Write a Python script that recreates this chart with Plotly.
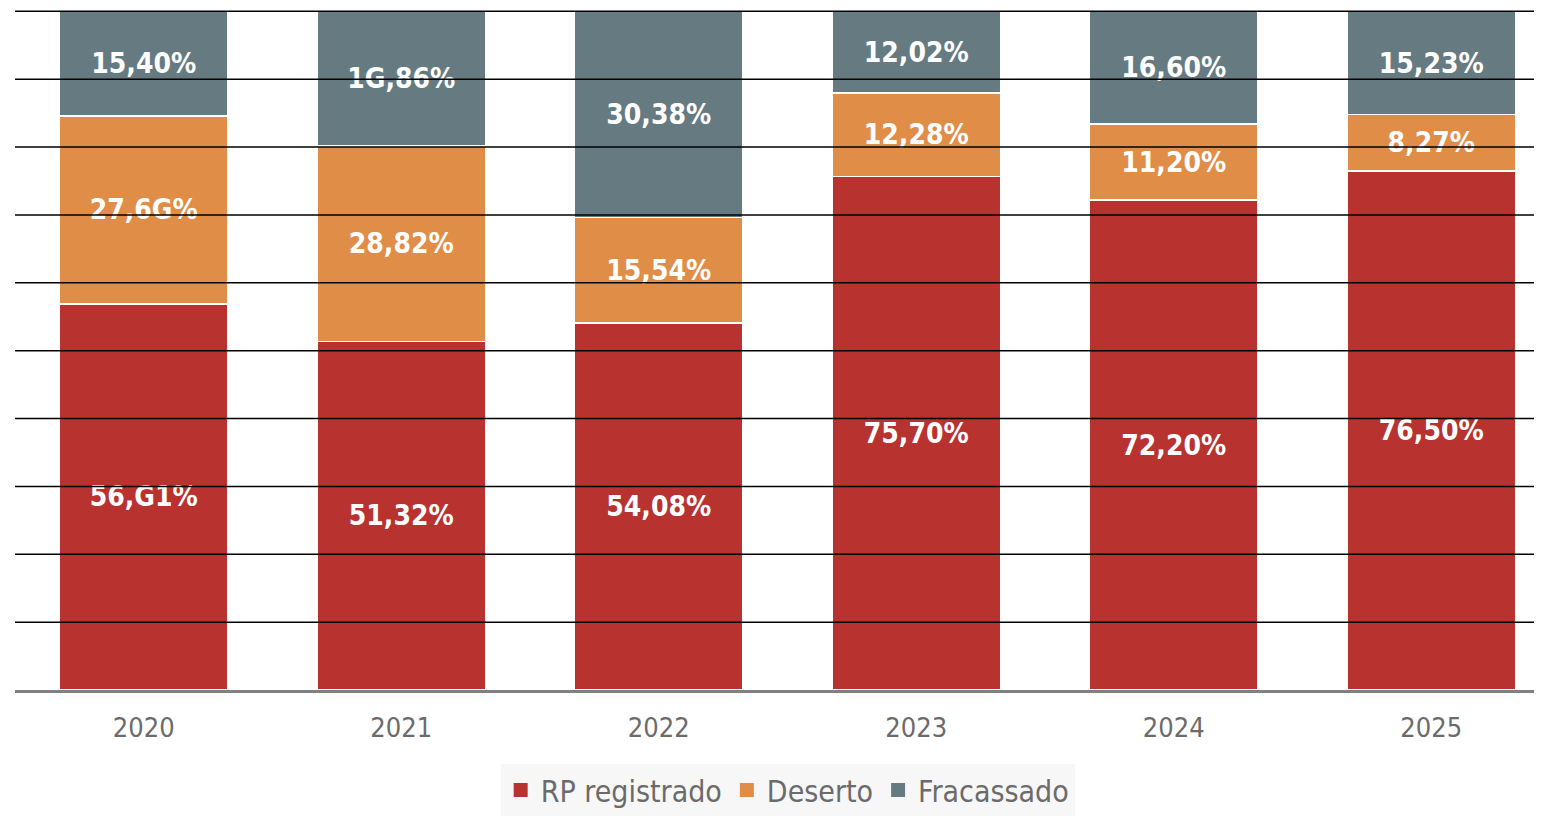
import plotly.graph_objects as go

years = ["2020", "2021", "2022", "2023", "2024", "2025"]
rp_registrado = [56.91, 51.32, 54.08, 75.70, 72.20, 76.50]
deserto = [27.69, 28.82, 15.54, 12.28, 11.20, 8.27]
fracassado = [15.40, 19.86, 30.38, 12.02, 16.60, 15.23]
rp_labels = ["56,G1%", "51,32%", "54,08%", "75,70%", "72,20%", "76,50%"]
deserto_labels = ["27,6G%", "28,82%", "15,54%", "12,28%", "11,20%", "8,27%"]
fracassado_labels = ["15,40%", "1G,86%", "30,38%", "12,02%", "16,60%", "15,23%"]
grid_values = [10, 20, 30, 40, 50, 60, 70, 80, 90, 100]

LABEL_FONT = dict(family="DejaVu Sans Condensed", size=28, color="white", weight="bold")
AXIS_FONT = dict(family="DejaVu Sans Condensed", size=27, color="#6b6b6b")
LEGEND_FONT = dict(family="DejaVu Sans Condensed", size=30, color="#6b6b6b")

series = [
    ("RP registrado", rp_registrado, rp_labels, "#B83230"),
    ("Deserto", deserto, deserto_labels, "#E08D48"),
    ("Fracassado", fracassado, fracassado_labels, "#667B81"),
]

fig = go.Figure()
for name, vals, labels, color in series:
    fig.add_trace(go.Bar(
        name=name, x=years, y=vals, text=labels,
        textposition="inside", insidetextanchor="middle",
        textfont=LABEL_FONT, constraintext="none",
        marker=dict(color=color, line=dict(color="white", width=1.5)),
        width=0.656, hoverinfo="skip", showlegend=False,
    ))
# legend entries with larger square swatches
for name, vals, labels, color in series:
    fig.add_trace(go.Scatter(
        name=name, x=[None], y=[None], mode="markers",
        marker=dict(symbol="square", size=14, color=color),
        hoverinfo="skip", showlegend=True,
    ))

# gridlines drawn above the bars, as in the reference
for g in grid_values:
    fig.add_shape(type="line", xref="paper", yref="y", x0=0, x1=1, y0=g, y1=g,
                  line=dict(color="black", width=1.5), layer="above")

fig.update_layout(
    barmode="stack",
    width=1534, height=808,
    margin=dict(l=7, r=0, t=2, b=126),
    plot_bgcolor="white", paper_bgcolor="white",
    legend=dict(
        orientation="h", x=0.506, xanchor="center", y=-0.147, yanchor="middle",
        bgcolor="#f7f7f7", font=LEGEND_FONT, traceorder="normal",
    ),
)
fig.update_xaxes(
    type="category", range=[-0.5, 5.43],
    showline=True, linecolor="#808080", linewidth=3, layer="above traces",
    showgrid=False, ticks="outside", ticklen=12, tickcolor="rgba(0,0,0,0)",
    tickfont=AXIS_FONT,
)
fig.update_yaxes(
    range=[0, 100.2], dtick=10, tick0=0,
    showgrid=False, zeroline=False, showticklabels=False,
)

fig.write_html("out.html")
